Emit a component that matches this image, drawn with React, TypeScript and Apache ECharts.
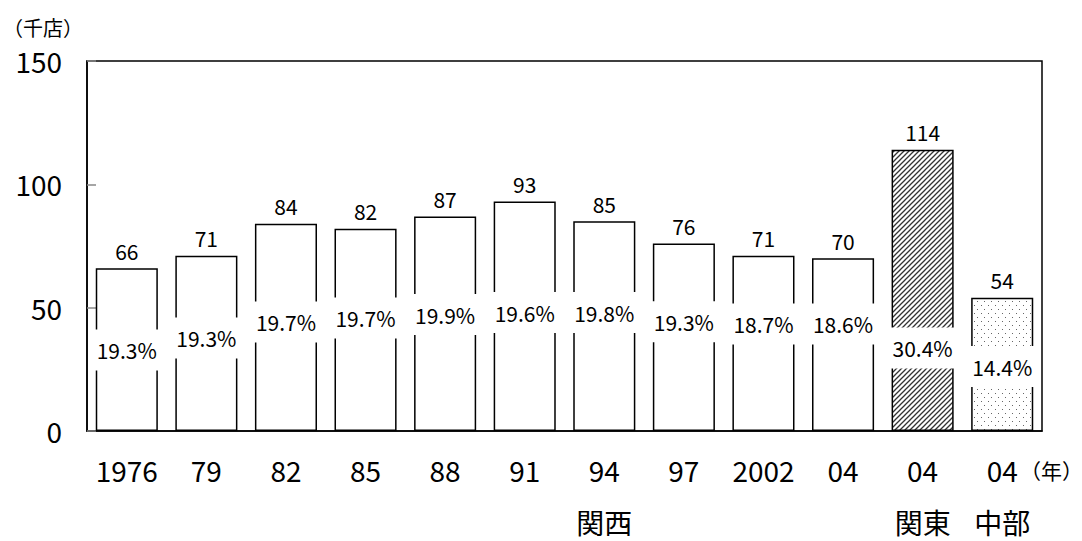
import React, { useEffect, useRef } from "react";
import * as echarts from "echarts";

const categories = ["1976", "79", "82", "85", "88", "91", "94", "97", "2002", "04", "04", "04"];
const regions = ["", "", "", "", "", "", "関西", "", "", "", "関東", "中部"];
const storeCounts = [66, 71, 84, 82, 87, 93, 85, 76, 71, 70, 114, 54];
const shareLabels = ["19.3%", "19.3%", "19.7%", "19.7%", "19.9%", "19.6%", "19.8%", "19.3%", "18.7%", "18.6%", "30.4%", "14.4%"];
// vertical placement of share labels, in axis units
const shareLabelAt = [32.8, 37.7, 44.2, 45.8, 47.2, 48.0, 48.0, 44.3, 43.4, 43.4, 33.6, 26.1];
const yTicks = { min: 0, max: 150, interval: 50 };

const FONT = "'Noto Sans CJK JP', 'Noto Sans', sans-serif";

function makeHatch(): HTMLCanvasElement {
  const c = document.createElement("canvas");
  c.width = 5;
  c.height = 5;
  const ctx = c.getContext("2d")!;
  ctx.fillStyle = "#ffffff";
  ctx.fillRect(0, 0, 5, 5);
  ctx.strokeStyle = "#333333";
  ctx.lineWidth = 1.3;
  ctx.beginPath();
  ctx.moveTo(-1, 6);
  ctx.lineTo(6, -1);
  ctx.moveTo(-2, 2);
  ctx.lineTo(2, -2);
  ctx.moveTo(3, 7);
  ctx.lineTo(7, 3);
  ctx.stroke();
  return c;
}

function makeDots(): HTMLCanvasElement {
  const c = document.createElement("canvas");
  c.width = 7;
  c.height = 8;
  const ctx = c.getContext("2d")!;
  ctx.fillStyle = "#ffffff";
  ctx.fillRect(0, 0, 7, 8);
  ctx.fillStyle = "#666666";
  ctx.fillRect(1, 1, 1, 1);
  ctx.fillRect(4, 5, 1, 1);
  return c;
}

export default function App() {
  const ref = useRef<HTMLDivElement>(null);

  useEffect(() => {
    if (!ref.current) return;
    const chart = echarts.init(ref.current, undefined, { renderer: "svg" });
    const hatch = makeHatch();
    const dots = makeDots();

    const barData = storeCounts.map((v, i) => {
      if (i === 10) {
        return { value: v, itemStyle: { color: { image: hatch, repeat: "repeat" } } };
      }
      if (i === 11) {
        return { value: v, itemStyle: { color: { image: dots, repeat: "repeat" } } };
      }
      return v;
    });

    chart.setOption({
      animation: false,
      textStyle: { fontFamily: FONT },
      grid: {
        left: 87,
        right: 40,
        top: 61,
        bottom: 110,
        show: true,
        borderColor: "#000",
        borderWidth: 1.5,
        backgroundColor: "transparent",
      },
      xAxis: {
        type: "category",
        data: categories,
        axisLine: { lineStyle: { color: "#000", width: 1.5 } },
        axisTick: { show: false },
        axisLabel: {
          color: "#000",
          fontSize: 28,
          lineHeight: 26,
          margin: 26,
          fontFamily: FONT,
          interval: 0,
          formatter: (val: string, idx: number) =>
            regions[idx] ? `${val}\n\n${regions[idx]}` : val,
        },
        splitLine: { show: false },
      },
      yAxis: {
        type: "value",
        min: yTicks.min,
        max: yTicks.max,
        interval: yTicks.interval,
        axisLine: { show: true, lineStyle: { color: "#000", width: 1.5 } },
        axisTick: { show: true, inside: true, length: 9, lineStyle: { color: "#888", width: 1.5 } },
        axisLabel: { color: "#000", fontSize: 28, margin: 25, fontFamily: FONT },
        splitLine: { show: false },
      },
      series: [
        {
          type: "bar",
          data: barData,
          barCategoryGap: "22%",
          itemStyle: { color: "#fff", borderColor: "#000", borderWidth: 1.5 },
          label: {
            show: true,
            position: "top",
            distance: 7,
            color: "#000",
            fontSize: 21,
            fontFamily: FONT,
          },
          silent: true,
        },
        {
          type: "scatter",
          data: shareLabelAt,
          symbolSize: 0,
          z: 5,
          silent: true,
          itemStyle: { opacity: 1 },
          label: {
            show: true,
            position: "inside",
            formatter: (p: any) => shareLabels[p.dataIndex],
            color: "#000",
            opacity: 1,
            fontSize: 21,
            lineHeight: 21,
            fontFamily: FONT,
            backgroundColor: "#fff",
            padding: [10, 3],
          },
        },
      ],
      graphic: [
        {
          type: "text",
          x: 3,
          y: 17,
          style: {
            text: "（千店）",
            font: "20px 'Noto Sans CJK JP', sans-serif",
            fill: "#000",
          },
        },
        {
          type: "text",
          x: 1020,
          y: 459,
          style: {
            text: "（年）",
            font: "21px 'Noto Sans CJK JP', sans-serif",
            fill: "#000",
          },
        },
      ],
    });

    return () => chart.dispose();
  }, []);

  return (
    <div
      ref={ref}
      style={{ position: "fixed", left: 0, top: 0, width: 1082, height: 541, background: "#fff" }}
    />
  );
}
